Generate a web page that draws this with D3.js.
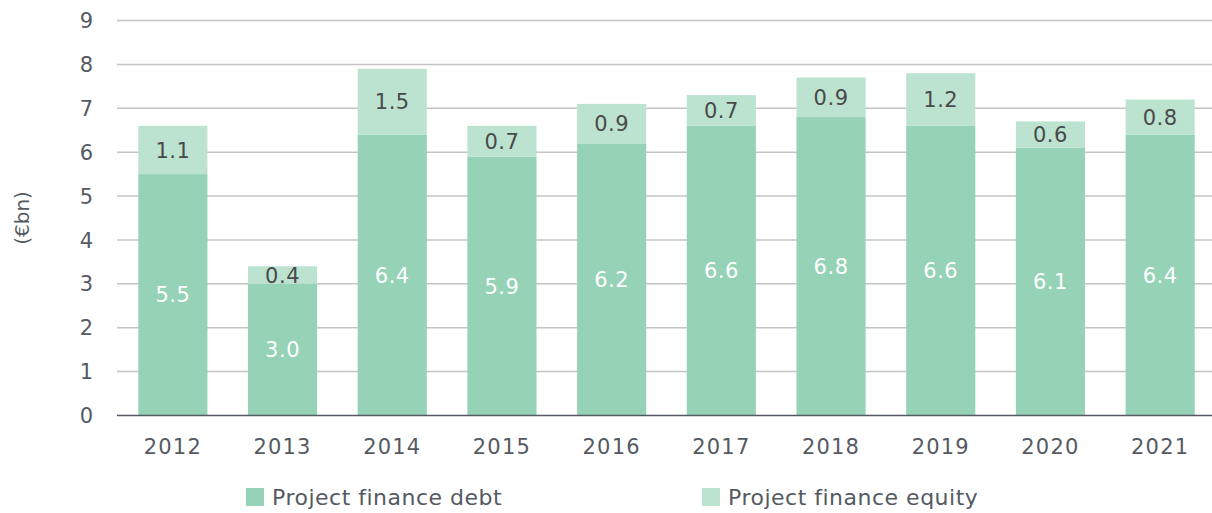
<!DOCTYPE html>
<html><head><meta charset="utf-8">
<script src="https://cdn.jsdelivr.net/npm/d3@7"></script>
<style>
body{margin:0;background:#fff;}
text{font-family:"DejaVu Sans",sans-serif;}
</style></head>
<body><svg id="c" width="1212" height="513"></svg>
<script>
const years = ["2012","2013","2014","2015","2016","2017","2018","2019","2020","2021"];
const debt = [5.5,3.0,6.4,5.9,6.2,6.6,6.8,6.6,6.1,6.4];
const equity = [1.1,0.4,1.5,0.7,0.9,0.7,0.9,1.2,0.6,0.8];
const yTicks = [0,1,2,3,4,5,6,7,8,9];
const seriesNames = ["Project finance debt","Project finance equity"];
const colors = ["#96d2b6","#bce3cf"];

const svg = d3.select("#c");
const x = d3.scaleBand().domain(years).range([118,1215]).paddingInner(0.37).paddingOuter(0.185);
const y = d3.scaleLinear().domain([0,9]).range([415.5,20.5]);

svg.append("g").selectAll("line").data(yTicks.filter(d=>d>0)).join("line")
  .attr("x1",117).attr("x2",1212).attr("y1",d=>y(d)).attr("y2",d=>y(d))
  .attr("stroke","#c4c4c4").attr("stroke-width",1.5);

svg.append("g").selectAll("text").data(yTicks).join("text")
  .attr("x",87).attr("y",d=>y(d)).attr("dy","0.36em").attr("text-anchor","middle")
  .attr("font-size",21).attr("letter-spacing","1px").attr("fill","#555a62").text(d=>d);

const rows = years.map((yr,i)=>({yr,d:debt[i],e:equity[i]}));
const g = svg.append("g");
g.selectAll("rect.d").data(rows).join("rect").attr("class","d")
  .attr("x",r=>x(r.yr)).attr("width",x.bandwidth())
  .attr("y",r=>y(r.d)).attr("height",r=>y(0)-y(r.d)).attr("fill",colors[0]);
g.selectAll("rect.e").data(rows).join("rect").attr("class","e")
  .attr("x",r=>x(r.yr)).attr("width",x.bandwidth())
  .attr("y",r=>y(r.d+r.e)).attr("height",r=>y(r.d)-y(r.d+r.e)).attr("fill",colors[1]);

g.selectAll("text.d").data(rows).join("text").attr("class","d")
  .attr("x",r=>x(r.yr)+x.bandwidth()/2).attr("y",r=>y(r.d/2)).attr("dy","0.36em")
  .attr("text-anchor","middle").attr("font-size",21).attr("letter-spacing","0.5px").attr("fill","#ffffff")
  .text(r=>r.d.toFixed(1));
g.selectAll("text.e").data(rows).join("text").attr("class","e")
  .attr("x",r=>x(r.yr)+x.bandwidth()/2).attr("y",r=>y(r.d+r.e/2)).attr("dy","0.36em")
  .attr("text-anchor","middle").attr("font-size",21).attr("letter-spacing","0.5px").attr("fill","#4a4a4c")
  .text(r=>r.e.toFixed(1));

svg.append("line").attr("x1",117).attr("x2",1212).attr("y1",y(0)).attr("y2",y(0))
  .attr("stroke","#555a62").attr("stroke-width",1.5);

svg.append("g").selectAll("text").data(years).join("text")
  .attr("x",d=>x(d)+x.bandwidth()/2).attr("y",446).attr("dy","0.36em")
  .attr("text-anchor","middle").attr("font-size",21).attr("letter-spacing","1.2px").attr("fill","#555a62").text(d=>d);

svg.append("text").attr("transform","translate(22,218) rotate(-90)")
  .attr("text-anchor","middle").attr("dy","0.36em").attr("font-size",20).attr("fill","#555a62").text("(€bn)");

const lx = [246,702];
const lg = svg.append("g").selectAll("g").data(seriesNames).join("g")
  .attr("transform",(d,i)=>`translate(${lx[i]},488)`);
lg.append("rect").attr("width",18).attr("height",18).attr("fill",(d,i)=>colors[i]);
lg.append("text").attr("x",26).attr("y",9).attr("dy","0.36em").attr("font-size",22).attr("letter-spacing","0.5px")
  .attr("fill","#555a62").text(d=>d);
</script></body></html>
